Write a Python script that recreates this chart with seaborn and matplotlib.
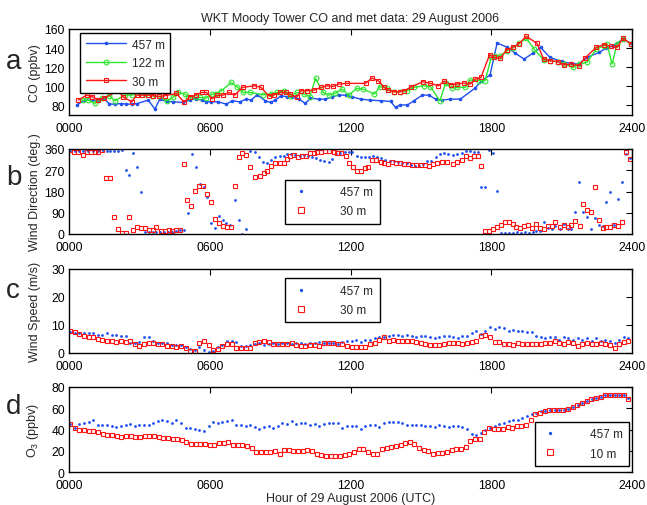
import numpy as np
import pandas as pd
import matplotlib
matplotlib.use("Agg")
import matplotlib.pyplot as plt
import seaborn as sns

sns.set_theme(style="white")
plt.rcParams['font.family'] = ['Liberation Sans', 'DejaVu Sans']
plt.rcParams['mathtext.fontset'] = 'custom'
plt.rcParams['mathtext.rm'] = 'Liberation Sans'

BLUE = '#1f4ff0'
GREEN = '#2ee62e'
RED = '#ff1414'

# ---------------- data ----------------
hour_ticks = [0, 6, 12, 18, 24]
hour_labels = ['0000', '0600', '1200', '1800', '2400']

# Panel a: CO (ppbv)
co457_t = [0.33, 0.68, 1.0, 1.25, 1.49, 1.72, 1.96, 2.2, 2.45, 2.67, 2.91, 3.38, 3.66, 3.87, 4.16, 4.44,
           4.87, 5.15, 5.4, 5.65, 5.86, 6.07, 6.35, 6.71, 6.96, 7.28, 7.56, 7.77, 8.02, 8.37, 8.59, 8.8,
           9.04, 9.3, 9.51, 9.8, 10.08, 10.29, 10.65, 10.93, 11.22, 11.5, 11.79, 12.07, 12.43, 12.85,
           13.28, 13.71, 13.92, 14.13, 14.42, 14.7, 15.06, 15.34, 15.63, 15.91, 16.24, 16.68, 17.3, 17.6,
           17.95, 18.25, 18.67, 19.0, 19.4, 19.8, 20.1, 20.5, 21.0, 21.4, 21.73, 22.08, 22.6, 22.9, 23.2,
           23.62, 23.96]
co457_v = [80.6, 85.6, 85.6, 84.9, 87.7, 81.4, 81.4, 82.0, 81.4, 81.4, 82.0, 85.6, 76.2, 86.6, 84.2, 83.8,
           83.1, 85.6, 87.0, 85.6, 83.8, 83.8, 83.8, 81.4, 84.9, 83.8, 86.6, 85.6, 91.2, 84.9, 83.1, 85.6,
           90.1, 89.1, 89.1, 86.6, 82.1, 87.7, 86.6, 86.6, 89.1, 90.8, 90.8, 89.1, 86.6, 85.6,
           84.9, 84.2, 77.9, 80.7, 80.3, 84.9, 90.8, 90.8, 86.6, 85.6, 86.6, 86.6, 98.0, 106.0,
           112.0, 145.3, 141.0, 135.0, 128.6, 135.0, 140.8, 130.3, 126.0, 124.0, 123.3, 130.3, 135.5, 140.0, 142.5,
           149.5, 145.0]

co122_t = [0.58, 0.82, 1.11, 1.39, 1.72, 1.96, 2.38, 2.67, 2.99, 3.23, 3.52, 3.84, 4.16, 4.44, 4.65, 4.94,
           5.08, 5.36, 5.57, 5.86, 6.11, 6.28, 6.5, 6.92, 7.16, 7.42, 7.73, 8.27, 8.59, 8.87, 9.16, 9.41,
           9.72, 10.01, 10.26, 10.51, 10.83, 11.08, 11.36, 11.64, 11.93, 12.26, 12.54, 13.02, 13.25, 13.56,
           13.85, 14.13, 14.42, 14.7, 15.13, 15.41, 15.81, 16.05, 16.32, 16.56, 16.89, 17.1, 17.46, 17.74,
           18.0, 18.17, 18.38, 18.67, 18.92, 19.19, 19.49, 19.83, 20.23, 20.52, 20.83, 21.12, 21.49, 21.73,
           22.08, 22.48, 22.79, 22.94, 23.15, 23.36, 23.62, 23.96]
co122_v = [85.6, 85.6, 82.1, 87.7, 90.1, 84.9, 90.8, 90.8, 93.6, 91.9, 90.1, 89.4, 84.9, 88.4, 93.6, 91.9,
           89.1, 88.4, 88.4, 87.7, 91.9, 91.9, 95.4, 104.1, 99.6, 93.6, 93.6, 91.2, 91.9, 93.6, 95.4, 90.1,
           93.6, 91.9, 89.1, 108.3, 93.6, 90.8, 92.9, 97.1, 90.8, 97.8, 97.1, 91.9, 99.6, 98.2,
           94.3, 94.3, 95.4, 98.9, 100.6, 99.6, 84.9, 103.1, 98.2, 98.9, 98.9, 106.5, 105.9, 105.9,
           130.3, 131.7, 131.7, 137.3, 140.1, 145.0, 150.2, 139.0, 127.5, 126.8, 125.8, 123.3, 119.8, 123.3,
           125.1, 139.0, 142.5, 144.3, 123.3, 144.3, 149.5, 144.3]

co30_t = [0.40, 0.75, 1.0, 1.25, 1.5, 2.1, 2.3, 2.67, 2.9, 3.13, 3.38, 3.6, 3.84, 4.08, 4.58, 4.9, 5.15,
          5.4, 5.65, 5.86, 6.1, 6.3, 6.57, 6.82, 7.06, 7.4, 7.9, 8.19, 8.51, 8.76, 9.01, 9.23, 9.44, 9.70,
          9.89, 10.15, 10.44, 10.76, 11.0, 11.26, 11.5, 11.86, 12.64, 12.92, 13.18, 13.42, 13.59, 13.85,
          14.09, 14.3, 14.6, 15.09, 15.41, 15.75, 16.0, 16.28, 16.53, 16.85, 17.10, 17.32, 17.56, 17.93,
          18.10, 18.38, 18.67, 18.92, 19.17, 19.49, 19.95, 20.23, 20.52, 20.83, 21.09, 21.41, 21.73, 21.98,
          22.48, 22.79, 23.10, 23.36, 23.61, 23.96]
co30_v = [85.6, 90.8, 89.1, 85.9, 87.7, 95.4, 89.1, 83.8, 90.8, 90.8, 90.8, 90.1, 89.4, 90.1, 92.6, 83.5, 89.1,
          90.8, 93.6, 93.6, 87.0, 90.5, 90.8, 93.6, 90.8, 98.9, 100.6, 98.9, 90.1, 91.2, 93.6, 93.6, 91.9, 88.4,
          95.4, 95.4, 96.1, 98.9, 100.6, 99.9, 102.4, 103.1, 103.1, 108.6, 105.9, 99.6, 96.1, 94.3,
          94.3, 95.4, 99.6, 104.8, 103.1, 100.6, 105.5, 101.7, 102.4, 103.4, 102.4, 107.6, 109.3, 133.1,
          130.3, 129.3, 138.3, 140.8, 144.3, 152.3, 145.0, 128.6, 126.8, 125.8, 122.3, 123.3, 121.6, 129.3,
          140.8, 143.6, 141.8, 140.8, 150.2, 144.3]

# Panel b: wind direction (deg.)
wd457_t = [0.04, 0.26, 0.44, 0.61, 0.82, 1.04, 1.25, 1.43, 1.60, 1.74, 1.91, 2.10, 2.24, 2.43, 2.57, 2.74,
           2.91, 3.06, 3.23, 3.42, 3.56, 3.73, 3.87, 4.04, 4.20, 4.37, 4.55, 4.72, 4.89, 5.08, 5.25, 5.40,
           5.57, 5.74, 5.90, 6.07, 6.24, 6.40, 6.57, 6.71, 6.88, 7.06, 7.25, 7.39, 7.56, 7.73, 7.95, 8.09,
           8.27, 8.44, 8.61, 8.8, 8.98, 9.16, 9.3, 9.47, 9.65, 9.84, 10.01, 10.18, 10.36, 10.55, 10.72,
           10.89, 11.08, 11.22, 11.4, 11.57, 11.76, 11.93, 12.07, 12.26, 12.43, 12.6, 12.78, 12.97, 13.14,
           13.31, 13.49, 13.68, 13.85, 14.02, 14.2, 14.39, 14.56, 14.73, 14.92, 15.1, 15.27, 15.44, 15.63,
           15.81, 15.98, 16.17, 16.39, 16.56, 16.75, 16.93, 17.1, 17.25, 17.42, 17.57, 17.74, 17.91, 18.07,
           18.24, 18.41, 18.57, 18.74, 18.92, 19.1, 19.27, 19.42, 19.59, 19.76, 19.92, 20.09, 20.26, 20.4,
           20.59, 20.73, 20.92, 21.09, 21.26, 21.41, 21.58, 21.73, 21.91, 22.08, 22.25, 22.41, 22.58, 22.75,
           22.91, 23.08, 23.25, 23.41, 23.58, 23.75, 23.9]
wd457_v = [353, 353, 353, 353, 353, 353, 353, 356, 353, 353, 353, 350, 357, 271, 250, 342,
           285, 179, 10, 7, 7, 10, 7, 7, 7, 10, 13, 18, 18, 89, 339, 282,
           212, 198, 155, 47, 24, 78, 59, 45, 38, 144, 61, 2, 21, 353, 346, 325,
           306, 301, 315, 325, 332, 332, 339, 339, 335, 332, 335, 332, 325, 320, 315,
           311, 306, 318, 339, 343, 349, 346, 346, 332, 325, 325, 325, 329, 325,
           320, 315, 311, 311, 306, 301, 301, 292, 287, 289, 297, 311, 311, 325,
           339, 343, 339, 335, 339, 343, 353, 353, 346, 346, 198, 200, 356, 342,
           181, 3, 4, 4, 4, 7, 3, 7, 3, 7, 11, 14, 49, 24,
           21, 32, 21, 42, 21, 21, 95, 219, 95, 71, 21, 66, 38, 35,
           137, 177, 38, 148, 219, 339, 321]

wd30_t = [0.04, 0.21, 0.40, 0.58, 0.75, 0.92, 1.11, 1.25, 1.42, 1.57, 1.74, 1.91, 2.07, 2.24, 2.41, 2.57,
          2.74, 2.91, 3.09, 3.26, 3.42, 3.59, 3.73, 3.91, 4.09, 4.26, 4.41, 4.58, 4.72, 4.89, 5.05, 5.22,
          5.39, 5.55, 5.72, 5.90, 6.07, 6.24, 6.40, 6.57, 6.74, 6.89, 7.06, 7.23, 7.39, 7.56, 7.73, 7.95,
          8.13, 8.3, 8.44, 8.61, 8.8, 8.98, 9.16, 9.3, 9.44, 9.61, 9.77, 9.94, 10.11, 10.26, 10.44, 10.58,
          10.76, 10.93, 11.10, 11.29, 11.43, 11.6, 11.79, 11.93, 12.1, 12.26, 12.43, 12.6, 12.75, 12.92,
          13.10, 13.28, 13.42, 13.59, 13.75, 13.92, 14.09, 14.28, 14.45, 14.63, 14.8, 14.99, 15.16, 15.34,
          15.51, 15.70, 15.91, 16.13, 16.39, 16.56, 16.75, 16.93, 17.1, 17.25, 17.42, 17.57, 17.74, 17.91,
          18.07, 18.24, 18.41, 18.57, 18.74, 18.92, 19.07, 19.24, 19.41, 19.56, 19.74, 19.92, 20.09, 20.26,
          20.4, 20.59, 20.73, 20.92, 21.09, 21.26, 21.41, 21.58, 21.77, 21.91, 22.08, 22.25, 22.41, 22.58,
          22.75, 22.91, 23.08, 23.25, 23.41, 23.58, 23.75, 23.9]
wd30_v = [356, 349, 346, 336, 349, 349, 349, 349, 357, 236, 236, 73, 21, 4, 4, 73,
          16, 28, 24, 24, 18, 18, 28, 11, 13, 17, 13, 17, 17, 296, 145, 120,
          181, 205, 205, 169, 137, 64, 47, 32, 28, 28, 205, 328, 343, 336, 282, 243,
          247, 258, 268, 287, 301, 301, 301, 318, 332, 335, 325, 332, 332, 343, 343, 349,
          349, 353, 350, 346, 343, 343, 332, 301, 282, 265, 268, 280, 282, 315,
          313, 306, 301, 297, 304, 301, 301, 297, 297, 292, 292, 292, 292, 289,
          297, 301, 306, 304, 297, 306, 315, 329, 322, 329, 329, 289, 14, 14,
          21, 28, 40, 49, 52, 42, 28, 24, 32, 38, 24, 42, 24, 21,
          35, 35, 52, 31, 38, 28, 38, 56, 32, 127, 103, 95, 200, 59,
          24, 28, 28, 38, 32, 49, 346, 318]

# Panel c: wind speed (m/s), sampled every ~12 min from 00:03 to 23:51
ws457_v = [7.6, 7.2, 7.0, 7.0, 7.2, 7.0, 6.4, 6.4, 7.0, 6.6, 6.6, 6.0, 6.2,
           3.4, 3.4, 3.9, 5.7, 5.7, 4.2, 3.6, 3.4, 3.4, 3.0, 3.0, 2.8,
           2.0, 1.5, 1.2, 2.2, 1.0, 0.5, 0.8, 2.0, 3.0, 4.2, 4.4, 4.0, 2.6, 2.4, 3.0,
           3.2, 3.4, 3.0, 3.2, 3.4, 3.2, 3.5, 3.4, 3.2, 3.6, 3.4, 3.3, 3.5, 3.6, 3.8, 3.5, 3.4, 3.6, 3.2, 4.0, 4.4,
           4.2, 4.5, 3.8, 4.6, 4.8, 5.4, 5.6, 5.8, 6.2, 6.4,
           6.6, 6.2, 6.4, 6.0, 5.8, 6.2, 6.0, 5.6, 5.4, 5.6,
           5.9, 6.0, 5.8, 5.5, 6.0, 6.2, 7.2, 7.8, 6.8, 8.0,
           9.4, 8.6, 9.2, 8.8, 8.0, 8.2, 8.0, 8.0, 7.4, 7.4,
           6.2, 5.6, 5.2, 5.6, 5.8, 4.7, 5.6, 5.2, 4.8, 5.2,
           4.8, 5.2, 4.2, 5.2, 4.4, 4.6, 4.4, 3.4, 4.7, 5.6, 5.4]
ws30_v = [7.8, 7.4, 6.8, 5.9, 5.6, 5.6, 5.1, 4.5, 4.2, 4.2,
          3.9, 4.2, 4.1, 4.2, 3.3, 2.4, 3.3, 3.5, 3.5, 3.1,
          3.1, 2.4, 2.4, 2.1, 2.6, 1.8, 0.7, 0.7, 3.5, 4.2,
          2.7, 0.9, 1.5, 2.4, 3.1, 3.1, 1.8, 1.9, 1.8, 1.9,
          3.5, 3.9, 4.2, 3.9, 3.3, 3.3, 3.3, 3.3, 3.5, 2.7,
          2.4, 2.4, 2.7, 2.7, 2.4, 3.5, 3.5, 3.5, 3.1, 3.3,
          2.4, 2.1, 2.1, 2.1, 2.1, 3.3, 3.5, 4.7, 5.6, 4.2,
          4.5, 4.2, 4.2, 4.2, 4.2, 3.9, 3.5, 3.1, 2.7, 2.7,
          2.7, 3.3, 3.5, 3.5, 3.5, 3.3, 3.5, 3.9, 4.2, 5.9,
          6.5, 5.6, 3.9, 3.9, 3.1, 3.1, 2.7, 3.5, 3.1, 3.3,
          3.1, 3.3, 3.3, 3.5, 3.5, 4.2, 3.5, 3.3, 3.9, 3.5,
          2.4, 3.1, 3.5, 3.1, 3.3, 3.5, 3.3, 2.7, 1.8, 3.1,
          3.9, 4.2]

# Panel d: O3 (ppbv)
o3457_v = [45.5, 41.4, 45.5, 46.4, 47.0, 49.2, 44.5, 44.5, 43.9, 43.3,
           42.3, 43.3, 44.5, 45.5, 43.3, 43.9, 44.5, 44.5, 46.4, 47.6,
           48.6, 47.6, 46.4, 48.6, 46.4, 41.4, 41.4, 40.8, 39.2, 38.2,
           43.3, 47.0, 46.4, 47.0, 47.6, 48.6, 44.5, 43.9, 43.3, 43.9,
           42.3, 40.8, 42.3, 43.3, 41.4, 43.3, 46.4, 45.5, 47.6, 45.5,
           46.4, 46.4, 44.5, 45.5, 43.3, 45.5, 46.4, 46.4, 46.4, 41.4,
           43.3, 43.3, 43.3, 40.8, 43.3, 43.9, 43.9, 42.3, 46.4, 47.0,
           47.0, 47.0, 46.4, 43.9, 43.9, 43.9, 43.9, 43.3, 43.3, 42.3,
           43.9, 43.3, 42.3, 43.3, 43.3, 42.3, 40.8, 36.1, 34.5, 37.0,
           39.2, 41.4, 43.3, 45.5, 46.4, 47.6, 48.6, 48.6, 50.8, 52.7,
           54.9, 55.8, 57.1, 57.1, 58.0, 58.0, 58.6, 58.0, 59.6, 61.1,
           62.7, 64.9, 66.5, 68.3, 69.6, 70.5, 72.1, 72.1, 72.7, 72.7,
           72.1, 69.6]
o3_10_v = [45.5, 41.4, 39.8, 39.2, 38.2, 38.2, 37.6, 36.1, 35.1, 34.5,
           33.5, 32.9, 33.5, 33.9, 32.9, 32.9, 33.9, 33.9, 33.9, 32.9,
           32.3, 32.0, 31.3, 30.7, 29.8, 28.2, 26.6, 26.6, 26.6, 26.6,
           25.1, 25.1, 27.6, 27.6, 28.2, 25.7, 25.1, 25.1, 24.5, 22.6,
           18.8, 18.8, 18.8, 18.8, 19.4, 17.2, 20.4, 20.4, 19.4, 19.4,
           19.4, 20.4, 19.4, 17.2, 16.3, 15.0, 15.0, 15.0, 15.0, 15.7,
           17.2, 18.8, 21.3, 21.3, 18.8, 17.2, 17.2, 21.3, 22.6, 23.5,
           24.5, 25.7, 27.6, 28.2, 26.6, 22.6, 20.4, 19.4, 17.2, 18.2,
           18.2, 18.8, 20.4, 21.3, 21.9, 23.5, 28.8, 30.7, 31.3, 37.6,
           41.4, 40.1, 40.1, 40.8, 42.3, 41.4, 43.3, 43.3, 44.5, 48.6,
           54.9, 55.8, 57.1, 58.0, 58.0, 58.6, 58.0, 59.6, 61.1, 62.7,
           64.9, 66.5, 68.3, 69.6, 70.5, 72.1, 72.1, 72.7, 72.7, 72.7,
           69.0]

first_hour, last_hour = 0.05, 23.85
ws457_t = np.linspace(first_hour, last_hour, len(ws457_v))
ws30_t = np.linspace(first_hour, last_hour, len(ws30_v))
o3457_t = np.linspace(first_hour, last_hour, len(o3457_v))
o3_10_t = np.linspace(first_hour, last_hour, len(o3_10_v))

# ---------------- figure ----------------
fig = plt.figure(figsize=(6.47, 5.06), dpi=100)
W, H = 647, 506
def axes_px(top, bottom):
    return fig.add_axes([69 / W, 1 - bottom / H, (632 - 69) / W, (bottom - top) / H])

ax_a = axes_px(30, 116)
ax_b = axes_px(150, 235)
ax_c = axes_px(270, 354)
ax_d = axes_px(388, 473)

TF = 8.7
def style(ax, ylim, yticks, ylabel):
    ax.set_xlim(0, 24)
    ax.set_ylim(*ylim)
    ax.set_xticks(hour_ticks)
    ax.set_xticklabels(hour_labels)
    ax.set_yticks(yticks)
    ax.tick_params(direction='in', top=True, right=True, length=4, width=0.8,
                   labelsize=TF, colors='black')
    ax.tick_params(axis='x', pad=5)
    ax.tick_params(axis='y', pad=3)
    for s in ax.spines.values():
        s.set_visible(True)
        s.set_color('black')
        s.set_linewidth(1.0)
    ax.set_ylabel(ylabel, fontsize=9)
    ax.yaxis.set_label_coords(-0.049, 0.5)
    ax.set_xlabel('')
    ax.set_facecolor('white')

def series(ax, t, v, label, kind):
    df = pd.DataFrame({'t': t, 'v': v})
    if kind == 'dot':
        kw = dict(marker='o', markersize=2.0, mfc=BLUE, mec=BLUE, mew=0, color=BLUE)
    else:
        kw = dict(marker='s', markersize=3.4, mfc='none', mec=RED, mew=0.8, color=RED)
    sns.lineplot(data=df, x='t', y='v', ax=ax, linestyle='', label=label,
                 estimator=None, **kw)

def leg(ax, loc, anchor):
    lg = ax.legend(loc=loc, bbox_to_anchor=anchor, fontsize=8.5, frameon=True, fancybox=False,
                   edgecolor='black', framealpha=1, handlelength=1.5, borderpad=0.55,
                   labelspacing=0.6, handletextpad=2.6, borderaxespad=0, markerscale=1.2)
    lg.get_frame().set_linewidth(1.0)
    return lg

# ---- a ----
for t, v, lab, col, mk, ms, mfc in [
        (co457_t, co457_v, '457 m', BLUE, '.', 3.5, BLUE),
        (co122_t, co122_v, '122 m', GREEN, 'o', 3.4, 'none'),
        (co30_t, co30_v, '30 m', RED, 's', 3.4, 'none')]:
    df = pd.DataFrame({'t': t, 'v': v})
    sns.lineplot(data=df, x='t', y='v', ax=ax_a, color=col, marker=mk, markersize=ms,
                 mfc=mfc, mec=col, mew=0.8, linewidth=1.0, label=lab, estimator=None)
style(ax_a, (70, 160), [80, 100, 120, 140, 160], 'CO (ppbv)')
lga = ax_a.legend(loc='upper left', bbox_to_anchor=(0.02, 0.95), fontsize=8.5, frameon=True,
                  fancybox=False, edgecolor='black', framealpha=1, handlelength=3.4,
                  borderpad=0.45, labelspacing=0.55, handletextpad=0.5, borderaxespad=0)
lga.get_frame().set_linewidth(1.0)
ax_a.set_title('WKT Moody Tower CO and met data: 29 August 2006', fontsize=9, pad=6)

# ---- b ----
series(ax_b, wd457_t, wd457_v, '457 m', 'dot')
series(ax_b, wd30_t, wd30_v, '30 m', 'sq')
style(ax_b, (0, 360), [0, 90, 180, 270, 360], 'Wind Direction (deg.)')
leg(ax_b, 'upper left', (0.384, 0.64))

# ---- c ----
series(ax_c, ws457_t, ws457_v, '457 m', 'dot')
series(ax_c, ws30_t, ws30_v, '30 m', 'sq')
style(ax_c, (0, 30), [0, 10, 20, 30], 'Wind Speed (m/s)')
leg(ax_c, 'upper left', (0.384, 0.89))

# ---- d ----
series(ax_d, o3457_t, o3457_v, '457 m', 'dot')
series(ax_d, o3_10_t, o3_10_v, '10 m', 'sq')
style(ax_d, (0, 80), [0, 20, 40, 60, 80], 'O$_3$ (ppbv)')
leg(ax_d, 'lower right', (0.995, 0.07))
ax_d.set_xlabel('Hour of 29 August 2006 (UTC)', fontsize=9, labelpad=1)

for letter, ypx in [('a', 62), ('b', 178), ('c', 291), ('d', 407)]:
    fig.text(6 / W, 1 - ypx / H, letter, fontsize=20, ha='left', va='center')

fig.savefig('out.png', dpi=100, facecolor='white')
